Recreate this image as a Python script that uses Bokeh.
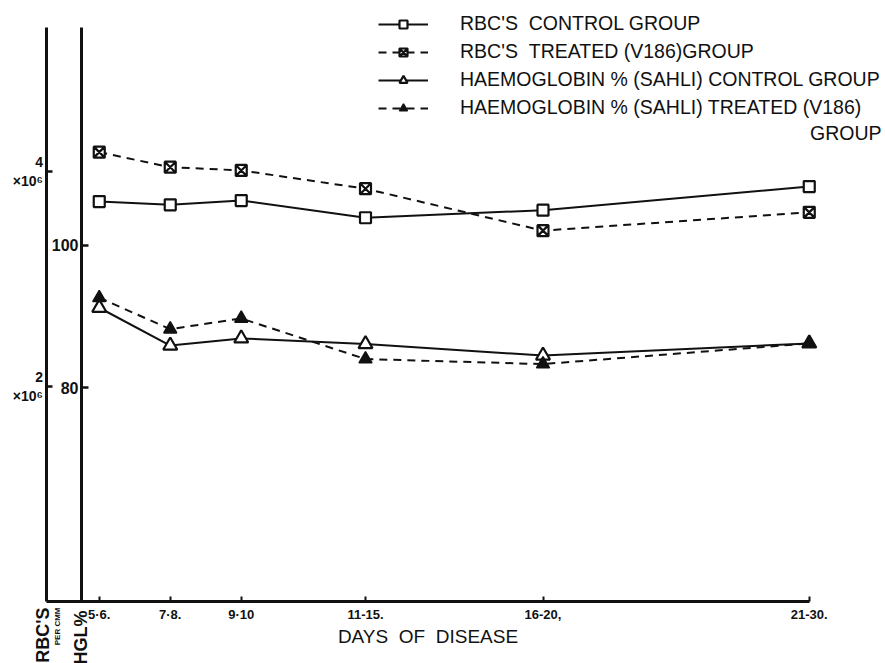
from math import pi
from bokeh.plotting import figure
from bokeh.models import (Range1d, LinearAxis, FixedTicker, Legend, LegendItem, Label)
from bokeh.embed import file_html
from bokeh.resources import INLINE

# ---------------- data ----------------
day_groups = ["5·6.", "7·8.", "9·10", "11-15.", "16-20,", "21-30."]
day_mid = [5.5, 7.5, 9.5, 13.0, 18.0, 25.5]          # mid-day of each group
rbc_control = [3.72, 3.69, 3.73, 3.57, 3.64, 3.86]    # RBC's x 10^6 per cmm
rbc_treated = [4.18, 4.04, 4.01, 3.84, 3.45, 3.62]
hb_control = [91.2, 85.9, 86.9, 86.1, 84.5, 86.2]     # haemoglobin % (Sahli)
hb_treated = [92.6, 88.2, 89.7, 84.0, 83.3, 86.2]
hgl_ticks = [80, 100]
rbc_ticks = [2, 4]

series_labels = [
    "RBC'S\u00a0\u00a0CONTROL GROUP",
    "RBC'S\u00a0\u00a0TREATED (V186)GROUP",
    "HAEMOGLOBIN % (SAHLI) CONTROL GROUP",
    "HAEMOGLOBIN % (SAHLI) TREATED (V186)",
]

INK = "#111111"
FONT = "Liberation Sans"

# layout constants (pixels of the 885 x 663 canvas)
W, H = 885, 663
PX_DAY = 35.5          # px per day
PX_HGL = 7.13          # px per haemoglobin %
PX_RBC = 107.5         # px per 10^6 cells
X0_PX, Y0_PX = 81, 601  # canvas position of (day 5, HGL 50 / RBC 0)

x_rng = Range1d(5 - X0_PX / PX_DAY, 5 + (W - X0_PX) / PX_DAY)
hgl_rng = Range1d(50 - (H - Y0_PX) / PX_HGL, 50 + Y0_PX / PX_HGL)
rbc_rng = Range1d(-(H - Y0_PX) / PX_RBC, Y0_PX / PX_RBC)

p = figure(width=W, height=H, output_backend="svg", toolbar_location=None,
           x_range=x_rng, y_range=hgl_rng,
           min_border_left=0, min_border_right=0, min_border_top=0,
           min_border_bottom=0)
p.extra_y_ranges = {"rbc": rbc_rng}
p.grid.visible = False
p.outline_line_color = None
p.background_fill_color = "white"
p.border_fill_color = "white"

# ---------------- x axis ----------------
xa = p.xaxis[0]
xa.fixed_location = 50
xa.ticker = FixedTicker(ticks=day_mid)
xa.major_label_overrides = {d: lab for d, lab in zip(day_mid, day_groups)}
xa.bounds = (4, 25.5)
xa.axis_line_width = 3
xa.axis_line_color = INK
xa.major_tick_in = 5
xa.major_tick_out = 0
xa.major_tick_line_width = 2
xa.major_tick_line_color = INK
xa.minor_tick_line_color = None
xa.major_label_standoff = 5
xa.major_label_text_font = FONT
xa.major_label_text_font_size = "13px"
xa.major_label_text_font_style = "bold"
xa.major_label_text_color = INK
xa.axis_label = "DAYS\u00a0\u00a0OF\u00a0\u00a0DISEASE"
xa.axis_label_text_font = FONT
xa.axis_label_text_font_size = "19px"
xa.axis_label_text_font_style = "normal"
xa.axis_label_text_color = INK
xa.axis_label_standoff = 1

# ---------------- HGL % axis ----------------
ya = p.yaxis[0]
ya.fixed_location = 5
ya.bounds = (50, 50 + (Y0_PX - 27) / PX_HGL)
ya.ticker = FixedTicker(ticks=hgl_ticks)
ya.axis_line_width = 3
ya.axis_line_color = INK
ya.major_tick_in = 7
ya.major_tick_out = 0
ya.major_tick_line_width = 2.5
ya.major_tick_line_color = INK
ya.minor_tick_line_color = None
ya.major_label_standoff = 3
ya.major_label_text_font = FONT
ya.major_label_text_font_size = "16px"
ya.major_label_text_font_style = "bold"
ya.major_label_text_color = INK

# ---------------- RBC axis ----------------
ra = LinearAxis(y_range_name="rbc", ticker=FixedTicker(ticks=rbc_ticks))
ra.fixed_location = 4
ra.bounds = (0, (Y0_PX - 27) / PX_RBC)
ra.major_label_overrides = {t: f"{t}\n×10⁶" for t in rbc_ticks}
ra.axis_line_width = 3
ra.axis_line_color = INK
ra.major_tick_in = 6
ra.major_tick_out = 0
ra.major_tick_line_width = 2.5
ra.major_tick_line_color = INK
ra.minor_tick_line_color = None
ra.major_label_standoff = 3
ra.major_label_text_font = FONT
ra.major_label_text_font_size = "14px"
ra.major_label_text_font_style = "bold"
ra.major_label_text_color = INK
p.add_layout(ra, "left")

# ---------------- series ----------------
l1 = p.line(day_mid, rbc_control, y_range_name="rbc", line_width=2, line_color=INK)
l2 = p.line(day_mid, rbc_treated, y_range_name="rbc", line_width=2, line_color=INK,
            line_dash="8 6")
l3 = p.line(day_mid, hb_control, line_width=2, line_color=INK)
l4 = p.line(day_mid, hb_treated, line_width=2, line_color=INK, line_dash="8 6")

s1 = p.scatter(day_mid, rbc_control, y_range_name="rbc", marker="square", size=11,
               fill_color="white", line_color=INK, line_width=2.2)
s2 = p.scatter(day_mid, rbc_treated, y_range_name="rbc", marker="square_x", size=11,
               fill_color="white", line_color=INK, line_width=2.2)
s3 = p.scatter(day_mid, hb_control, marker="triangle", size=14,
               fill_color="white", line_color=INK, line_width=2.2)
s4 = p.scatter(day_mid, hb_treated, marker="triangle", size=13,
               fill_color=INK, line_color=INK, line_width=1.5)

legend = Legend(items=[
    LegendItem(label=series_labels[0], renderers=[l1, s1]),
    LegendItem(label=series_labels[1], renderers=[l2, s2]),
    LegendItem(label=series_labels[2], renderers=[l3, s3]),
    LegendItem(label=series_labels[3], renderers=[l4, s4]),
], location=(378, 544), glyph_width=50, glyph_height=20, label_height=20,
    spacing=5, label_standoff=32, padding=0, margin=0, border_line_color=None,
    background_fill_alpha=0, label_text_font=FONT, label_text_font_size="19.5px",
    label_text_color=INK)
p.add_layout(legend)

p.add_layout(Label(x=881, y=531, x_units="screen", y_units="screen", text="GROUP",
                   text_align="right", text_baseline="middle", text_font=FONT,
                   text_font_size="19.5px", text_color=INK))

# ---------------- bottom-left column labels ----------------
p.add_layout(Label(x=42, y=56, x_units="screen", y_units="screen", text="RBC'S",
                   angle=pi / 2, text_align="right", text_baseline="middle",
                   text_font=FONT, text_font_size="18px", text_font_style="bold",
                   text_color=INK))
p.add_layout(Label(x=56.5, y=56, x_units="screen", y_units="screen", text="PER CMM",
                   angle=pi / 2, text_align="right", text_baseline="middle",
                   text_font=FONT, text_font_size="8px", text_font_style="bold",
                   text_color=INK))
p.add_layout(Label(x=80, y=53, x_units="screen", y_units="screen", text="HGL%",
                   angle=pi / 2, text_align="right", text_baseline="middle",
                   text_font=FONT, text_font_size="18px", text_font_style="bold",
                   text_color=INK))

open("out.html", "w").write(file_html(p, INLINE))
